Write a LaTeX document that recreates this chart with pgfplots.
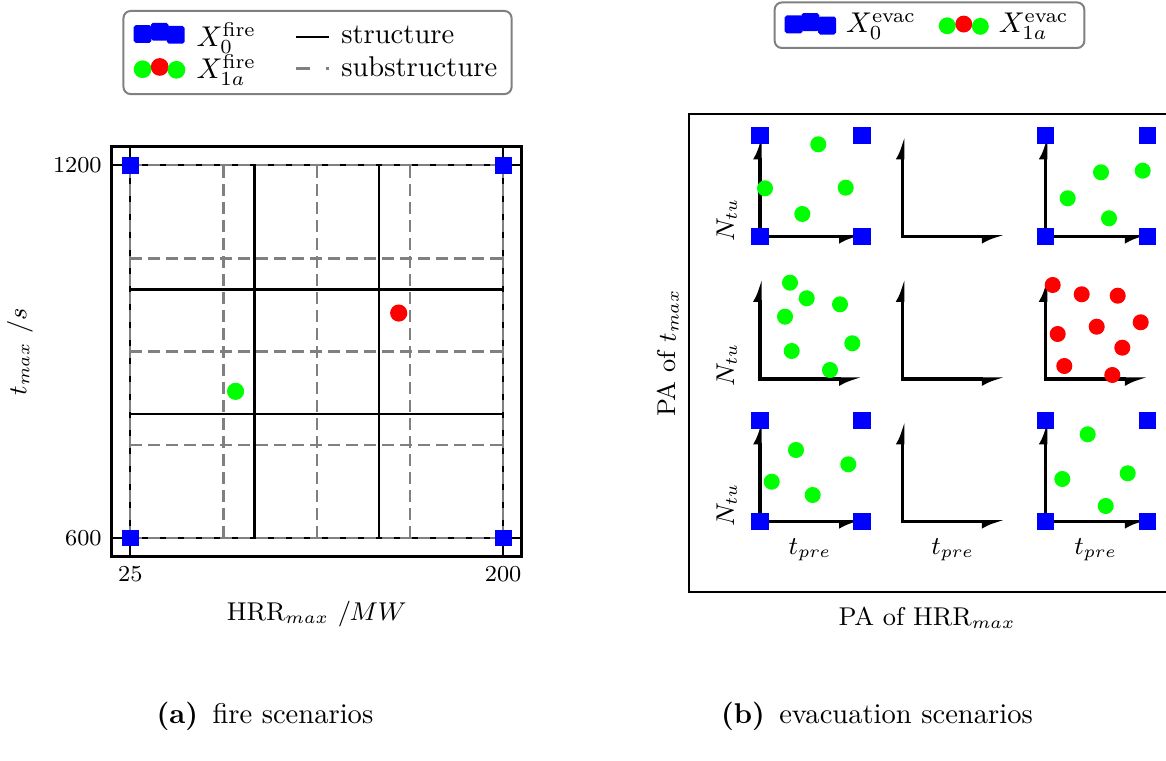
\documentclass[border=0pt]{standalone}
\usepackage{pgfplots}
\pgfplotsset{compat=1.18}
\usetikzlibrary{arrows.meta}
\definecolor{mygray}{RGB}{128,128,128}
\definecolor{lime}{RGB}{0,255,0}
\newcommand{\lblfont}{\fontsize{9}{11}\selectfont}
\newcommand{\tckfont}{\fontsize{8}{10}\selectfont}
\newcommand{\lgdfont}{\fontsize{10}{12}\selectfont}
\begin{document}
\begin{tikzpicture}
\path[use as bounding box] (0,0) rectangle (408.1pt,266pt);

% ---------------- (a) fire scenarios ----------------
\begin{axis}[
  at={(39.1pt,71.2pt)}, anchor=south west,
  scale only axis, width=143.5pt, height=143.5pt,
  xmin=16.25, xmax=208.75, ymin=570, ymax=1230,
  xtick={25,200}, ytick={600,1200},
  /pgf/number format/1000 sep={},
  major tick length=7pt,
  tick style={black, line width=0.7pt},
  axis line style={black, line width=0.9pt},
  ticklabel style={font=\tckfont},
  xlabel={HRR$_{max}$ $/MW$}, ylabel={$t_{max}$ $/s$},
  label style={font=\lblfont},
  xlabel style={at={(axis description cs:0.5,-0.14)}, anchor=center},
  ylabel style={at={(axis description cs:-0.2237,0.5)}, anchor=center},
  clip=false,
  legend columns=2,
  legend cell align=left,
  legend style={at={(0.502,1.1256)}, anchor=south, draw=mygray, line width=0.7pt,
    rounded corners=2.5pt, font=\lgdfont, inner xsep=3pt, inner ysep=2pt, row sep=-2.9pt,
    /tikz/every odd column/.append style={column sep=2pt},
    /tikz/every even column/.append style={column sep=11.5pt}},
]
\addlegendimage{legend image code/.code={
  \path (0pt,0pt);
  \fill[blue, rounded corners=0.5pt] (0.6pt,-1.8pt) rectangle ++(5.5pt,5.5pt);
  \fill[blue, rounded corners=0.5pt] (6.6pt,-1.0pt) rectangle ++(5.5pt,5.5pt);
  \fill[blue, rounded corners=0.5pt] (12.2pt,-2.1pt) rectangle ++(5.5pt,5.5pt);}}
\addlegendentry{$X_0^{\mathrm{fire}}$}
\addlegendimage{legend image code/.code={
  \draw[black, line width=0.8pt] (0pt,0pt) -- (11.5pt,0pt);}}
\addlegendentry{structure}
\addlegendimage{legend image code/.code={
  \path (0pt,0pt);
  \fill[lime] (3.35pt,-0.3pt) circle (2.75pt);
  \fill[red] (9.35pt,0.5pt) circle (2.75pt);
  \fill[lime] (15.2pt,-0.5pt) circle (2.75pt);}}
\addlegendentry{$X_{1a}^{\mathrm{fire}}$}
\addlegendimage{legend image code/.code={
  \draw[mygray, line width=0.8pt, dash pattern=on 5pt off 5.5pt] (0pt,0pt) -- (11.5pt,0pt);}}
\addlegendentry{substructure}

% structure (solid black)
\addplot[black, line width=0.8pt, unbounded coords=jump, forget plot] coordinates {
  (25,600) (200,600) (200,1200) (25,1200) (25,600) (25,nan)
  (83.333,600) (83.333,1200) (83.333,nan)
  (141.667,600) (141.667,1200) (141.667,nan)
  (25,800) (200,800) (200,nan)
  (25,1000) (200,1000)};
% substructure (dashed gray)
\addplot[mygray, line width=0.8pt, dash pattern=on 4.2pt off 2.1pt, unbounded coords=jump, forget plot] coordinates {
  (25,600) (25,1200) (25,nan)
  (68.75,600) (68.75,1200) (68.75,nan)
  (112.5,600) (112.5,1200) (112.5,nan)
  (156.25,600) (156.25,1200) (156.25,nan)
  (200,600) (200,1200) (200,nan)
  (25,600) (200,600) (200,nan)
  (25,750) (200,750) (200,nan)
  (25,900) (200,900) (200,nan)
  (25,1050) (200,1050) (200,nan)
  (25,1200) (200,1200)};
% X0 fire
\addplot[only marks, mark=square*, mark size=2.75pt, mark options={draw=blue, fill=blue}, forget plot]
  coordinates {(25,600) (25,1200) (200,600) (200,1200)};
% X1a fire
\addplot[only marks, mark=*, mark size=2.8pt, mark options={draw=lime, fill=lime}, forget plot]
  coordinates {(74.4,836)};
\addplot[only marks, mark=*, mark size=2.8pt, mark options={draw=red, fill=red}, forget plot]
  coordinates {(151,962)};
\end{axis}

% ---------------- (b) evacuation scenarios ----------------
\begin{axis}[
  at={(241.15pt,58.8pt)}, anchor=south west,
  scale only axis, width=168.35pt, height=167.3pt,
  xmin=689, xmax=1170, ymin=168, ymax=646,
  xtick=\empty, ytick=\empty,
  axis line style={black, line width=0.9pt},
  clip=false,
  legend columns=2,
  legend cell align=left,
  legend style={at={(0.5,1.136)}, anchor=south, draw=mygray, line width=0.7pt,
    rounded corners=2.5pt, font=\lgdfont, inner xsep=3.5pt, inner ysep=1.8pt,
    /tikz/every odd column/.append style={column sep=1.5pt},
    /tikz/every even column/.append style={column sep=6pt}},
]
\addlegendimage{legend image code/.code={
  \fill[blue, rounded corners=0.5pt] (0pt,-2.5pt) rectangle ++(5.6pt,5.6pt);
  \fill[blue, rounded corners=0.5pt] (5.8pt,-1.7pt) rectangle ++(5.6pt,5.6pt);
  \fill[blue, rounded corners=0.5pt] (11.7pt,-2.9pt) rectangle ++(5.6pt,5.6pt);}}
\addlegendentry{$X_0^{\mathrm{evac}}$}
\addlegendimage{legend image code/.code={
  \fill[lime] (2.6pt,-0.2pt) circle (2.6pt);
  \fill[red] (8.4pt,0.4pt) circle (2.6pt);
  \fill[lime] (14.2pt,-0.4pt) circle (2.6pt);}}
\addlegendentry{$X_{1a}^{\mathrm{evac}}$}

% small coordinate frames (arrows)
\pgfplotsset{arr/.style={black, line width=1.1pt, forget plot,
  {Latex[harpoon, length=6pt, width=5pt]}-{Latex[harpoon, swap, length=6pt, width=5pt]}}}
\addplot[arr] coordinates {(760,623.3) (760,523.3) (862,523.3)};
\addplot[arr] coordinates {(902.7,623.3) (902.7,523.3) (1004.7,523.3)};
\addplot[arr] coordinates {(1045.7,623.3) (1045.7,523.3) (1147.7,523.3)};
\addplot[arr] coordinates {(760,481) (760,381) (862,381)};
\addplot[arr] coordinates {(902.7,481) (902.7,381) (1004.7,381)};
\addplot[arr] coordinates {(1045.7,481) (1045.7,381) (1147.7,381)};
\addplot[arr] coordinates {(760,338.3) (760,238.3) (862,238.3)};
\addplot[arr] coordinates {(902.7,338.3) (902.7,238.3) (1004.7,238.3)};
\addplot[arr] coordinates {(1045.7,338.3) (1045.7,238.3) (1147.7,238.3)};

% X0 evac (corner squares)
\addplot[only marks, mark=square*, mark size=2.8pt, mark options={draw=blue, fill=blue}, forget plot]
  coordinates {
  (760,523.3) (862,523.3) (760,624.8) (862,624.8)
  (1045.7,523.3) (1147.7,523.3) (1045.7,624.8) (1147.7,624.8)
  (760,238.3) (862,238.3) (760,339.8) (862,339.8)
  (1045.7,238.3) (1147.7,238.3) (1045.7,339.8) (1147.7,339.8)};
% X1a evac green
\addplot[only marks, mark=*, mark size=2.6pt, mark options={draw=lime, fill=lime}, forget plot]
  coordinates {
  (818.3,615.7) (765,571.7) (845.7,572.3) (802.3,546)
  (1101,587.7) (1142.7,589.3) (1067.7,561.7) (1109,541.7)
  (790,477.3) (806.7,461.7) (840,455.7) (785,443.3) (852.3,416.7) (791.7,409) (830,390)
  (796,310) (848.3,295.7) (771.7,278.3) (812.7,265)
  (1087.7,325.7) (1062.3,281) (1127.7,286.7) (1105.7,254)};
% X1a evac red
\addplot[only marks, mark=*, mark size=2.6pt, mark options={draw=red, fill=red}, forget plot]
  coordinates {
  (1052.7,475) (1081.7,465.7) (1117.7,464.3) (1140.7,437.7) (1096.7,433.3)
  (1057.7,426) (1122.3,412.3) (1064.3,394) (1112.3,385)};

% labels
\node[rotate=90, font=\lblfont] at (axis cs:726.7,540) {$N_{tu}$};
\node[rotate=90, font=\lblfont] at (axis cs:726.7,395) {$N_{tu}$};
\node[rotate=90, font=\lblfont] at (axis cs:726.7,255) {$N_{tu}$};
\node[font=\lblfont] at (axis cs:810,210) {$t_{pre}$};
\node[font=\lblfont] at (axis cs:952.7,210) {$t_{pre}$};
\node[font=\lblfont] at (axis cs:1095.7,210) {$t_{pre}$};
\node[rotate=90, font=\lblfont] at (axis cs:668,407) {PA of $t_{max}$};
\node[font=\lblfont] at (axis cs:927,142) {PA of HRR$_{max}$};
\end{axis}

% captions
\node[anchor=base, font=\fontsize{10}{12}\selectfont] at (92.75pt,12.95pt) {\textbf{(a)}\enspace fire scenarios};
\node[anchor=base, font=\fontsize{10}{12}\selectfont] at (306.95pt,12.95pt) {\textbf{(b)}\enspace evacuation scenarios};
\end{tikzpicture}
\end{document}
